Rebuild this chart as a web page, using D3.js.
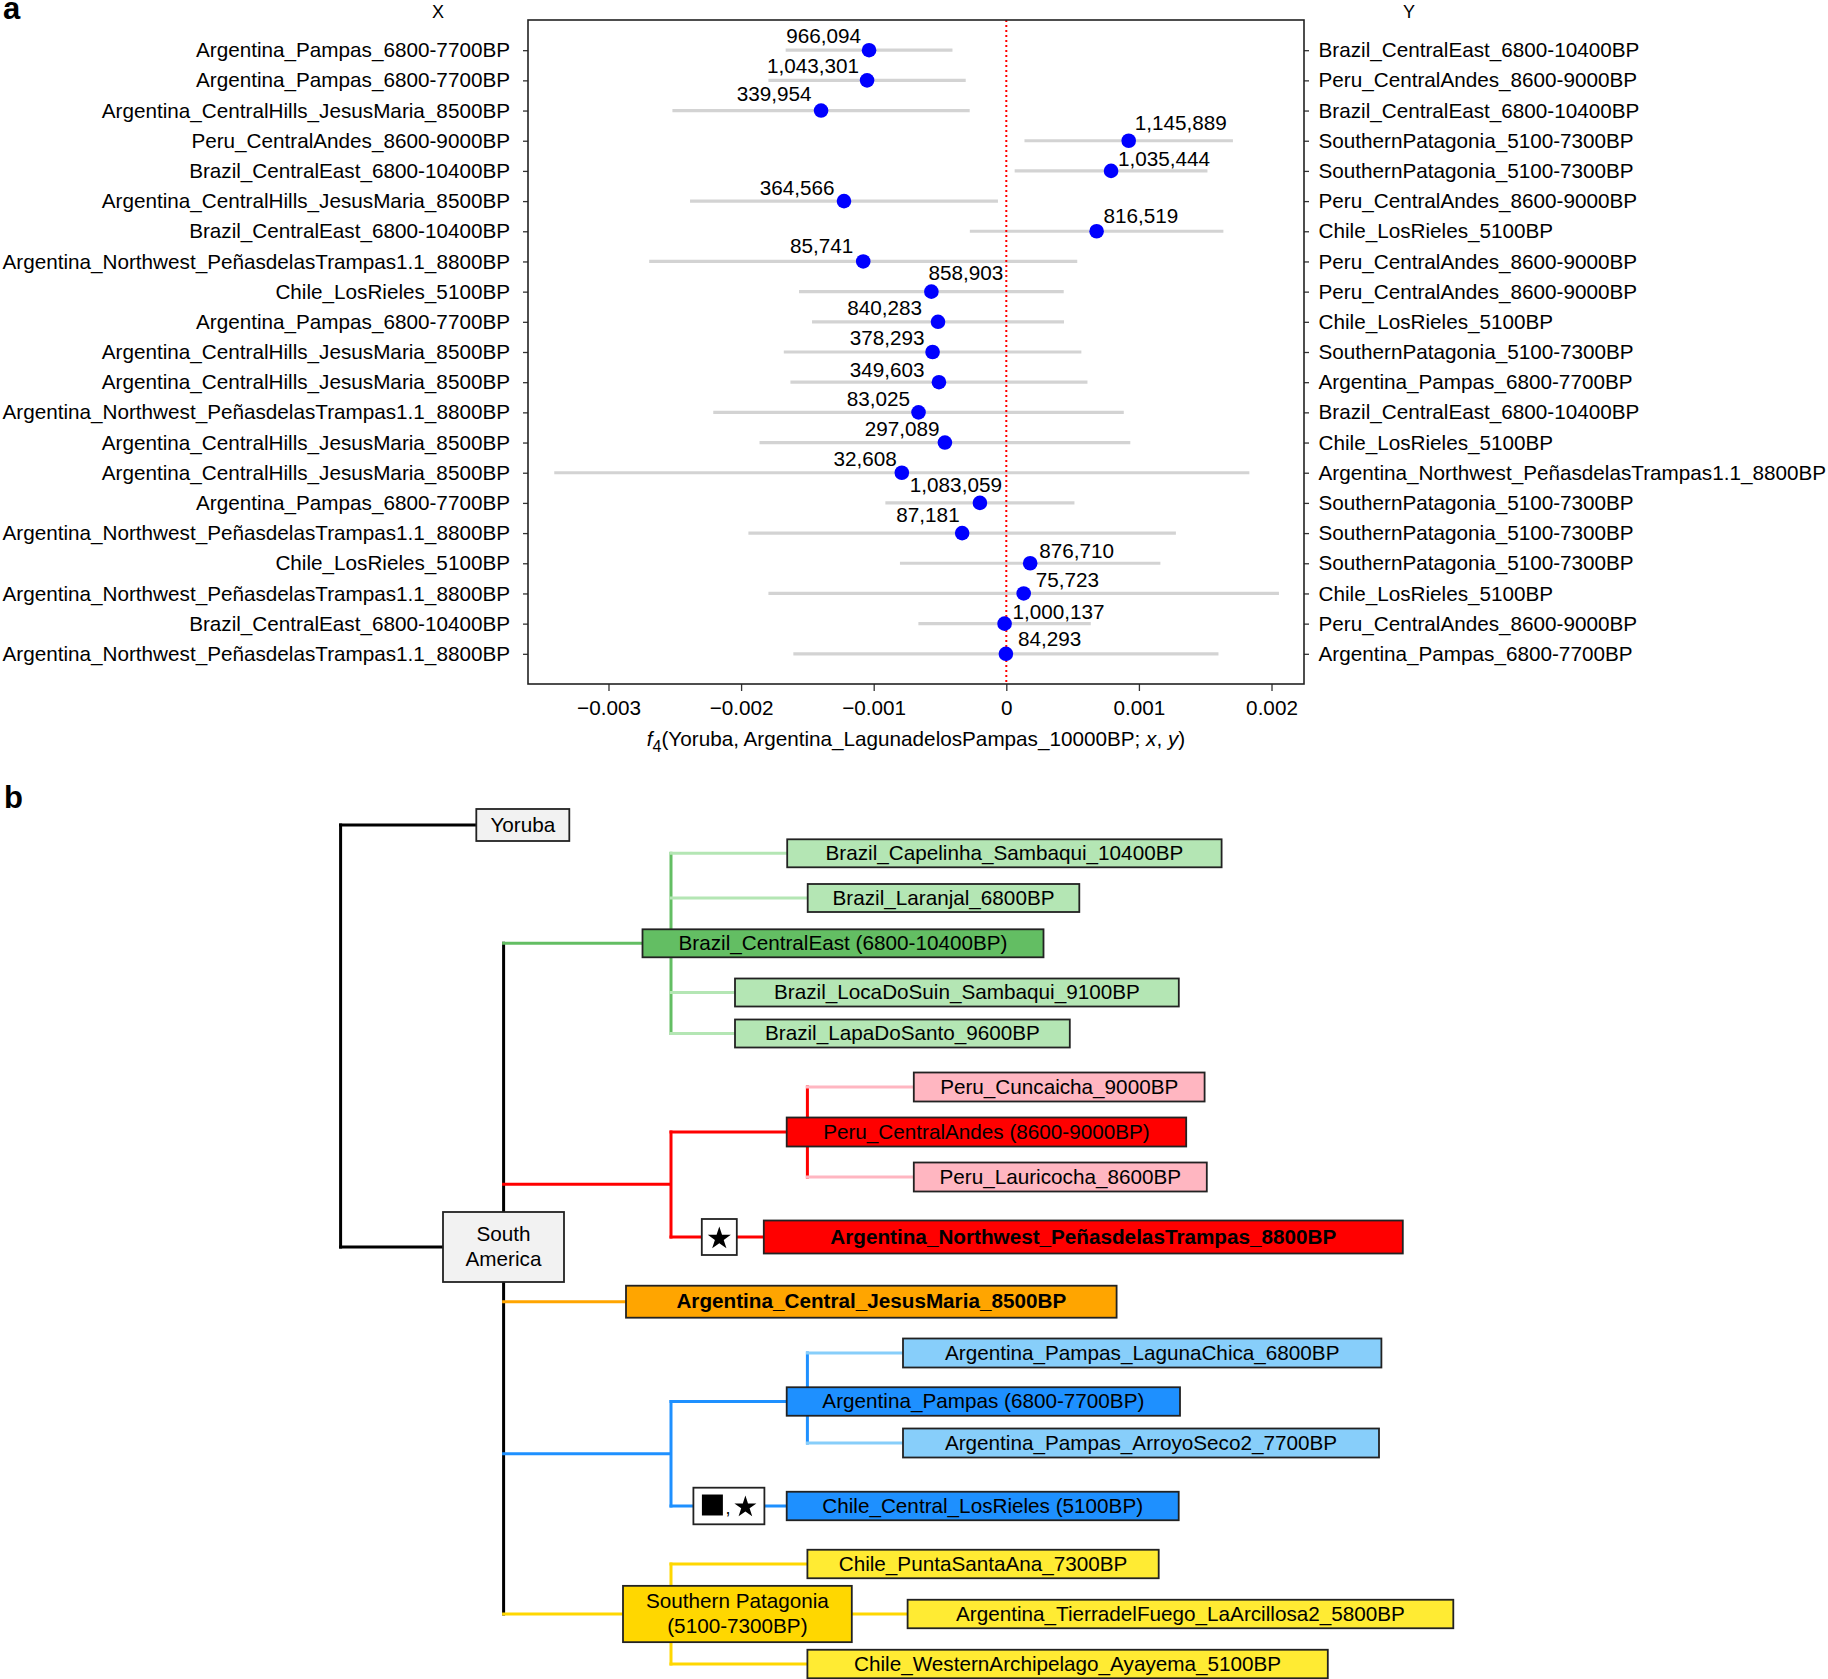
<!DOCTYPE html>
<html><head><meta charset="utf-8">
<script src="https://cdn.jsdelivr.net/npm/d3@7"></script>
<style>
body{margin:0;background:#fff}
svg{display:block}
text{font-family:"Liberation Sans",Arial,Helvetica,sans-serif}
</style>
</head><body>
<svg id="chart" width="1828" height="1679"></svg>
<script>
// ---------------- DATA (panel a) ----------------
const xNames = [
 "Argentina_Pampas_6800-7700BP","Argentina_Pampas_6800-7700BP","Argentina_CentralHills_JesusMaria_8500BP",
 "Peru_CentralAndes_8600-9000BP","Brazil_CentralEast_6800-10400BP","Argentina_CentralHills_JesusMaria_8500BP",
 "Brazil_CentralEast_6800-10400BP","Argentina_Northwest_PeñasdelasTrampas1.1_8800BP","Chile_LosRieles_5100BP",
 "Argentina_Pampas_6800-7700BP","Argentina_CentralHills_JesusMaria_8500BP","Argentina_CentralHills_JesusMaria_8500BP",
 "Argentina_Northwest_PeñasdelasTrampas1.1_8800BP","Argentina_CentralHills_JesusMaria_8500BP","Argentina_CentralHills_JesusMaria_8500BP",
 "Argentina_Pampas_6800-7700BP","Argentina_Northwest_PeñasdelasTrampas1.1_8800BP","Chile_LosRieles_5100BP",
 "Argentina_Northwest_PeñasdelasTrampas1.1_8800BP","Brazil_CentralEast_6800-10400BP","Argentina_Northwest_PeñasdelasTrampas1.1_8800BP"
];
const yNames = [
 "Brazil_CentralEast_6800-10400BP","Peru_CentralAndes_8600-9000BP","Brazil_CentralEast_6800-10400BP",
 "SouthernPatagonia_5100-7300BP","SouthernPatagonia_5100-7300BP","Peru_CentralAndes_8600-9000BP",
 "Chile_LosRieles_5100BP","Peru_CentralAndes_8600-9000BP","Peru_CentralAndes_8600-9000BP",
 "Chile_LosRieles_5100BP","SouthernPatagonia_5100-7300BP","Argentina_Pampas_6800-7700BP",
 "Brazil_CentralEast_6800-10400BP","Chile_LosRieles_5100BP","Argentina_Northwest_PeñasdelasTrampas1.1_8800BP",
 "SouthernPatagonia_5100-7300BP","SouthernPatagonia_5100-7300BP","SouthernPatagonia_5100-7300BP",
 "Chile_LosRieles_5100BP","Peru_CentralAndes_8600-9000BP","Argentina_Pampas_6800-7700BP"
];
const snpCounts = [966094,1043301,339954,1145889,1035444,364566,816519,85741,858903,840283,378293,
 349603,83025,297089,32608,1083059,87181,876710,75723,1000137,84293];
const f4Est = [-0.001035,-0.001050,-0.001397,0.000923,0.000790,-0.001224,0.000681,-0.001079,-0.000565,-0.000515,-0.000556,
 -0.000508,-0.000662,-0.000463,-0.000788,-0.000199,-0.000333,0.000180,0.000131,-0.000013,-0.000003];
const f4Err = [0.000629,0.000744,0.001121,0.000786,0.000727,0.001161,0.000956,0.001614,0.000998,0.000950,0.001122,
 0.001120,0.001548,0.001398,0.002621,0.000713,0.001612,0.000982,0.001925,0.000650,0.001603];
const xTicks = [-0.003,-0.002,-0.001,0,0.001,0.002];

// ---------------- DATA (panel b: tree) ----------------
const treeNodes = [
 {id:"root", parent:null},
 {id:"Yoruba", parent:"root", text:["Yoruba"]},
 {id:"SA", parent:"root", text:["South","America"]},
 {id:"CE", parent:"SA", text:["Brazil_CentralEast (6800-10400BP)"]},
 {id:"Capelinha", parent:"CE", text:["Brazil_Capelinha_Sambaqui_10400BP"]},
 {id:"Laranjal", parent:"CE", text:["Brazil_Laranjal_6800BP"]},
 {id:"LocaDoSuin", parent:"CE", text:["Brazil_LocaDoSuin_Sambaqui_9100BP"]},
 {id:"LapaDoSanto", parent:"CE", text:["Brazil_LapaDoSanto_9600BP"]},
 {id:"redJ", parent:"SA"},
 {id:"CA", parent:"redJ", text:["Peru_CentralAndes (8600-9000BP)"]},
 {id:"Cuncaicha", parent:"CA", text:["Peru_Cuncaicha_9000BP"]},
 {id:"Lauricocha", parent:"CA", text:["Peru_Lauricocha_8600BP"]},
 {id:"Penas", parent:"redJ", text:["Argentina_Northwest_PeñasdelasTrampas_8800BP"], bold:true, marker:"star"},
 {id:"JM", parent:"SA", text:["Argentina_Central_JesusMaria_8500BP"], bold:true},
 {id:"blueJ", parent:"SA"},
 {id:"Pampas", parent:"blueJ", text:["Argentina_Pampas (6800-7700BP)"]},
 {id:"LagunaChica", parent:"Pampas", text:["Argentina_Pampas_LagunaChica_6800BP"]},
 {id:"ArroyoSeco", parent:"Pampas", text:["Argentina_Pampas_ArroyoSeco2_7700BP"]},
 {id:"LosRieles", parent:"blueJ", text:["Chile_Central_LosRieles (5100BP)"], marker:"squarestar"},
 {id:"SP", parent:"SA", text:["Southern Patagonia","(5100-7300BP)"]},
 {id:"PuntaSantaAna", parent:"SP", text:["Chile_PuntaSantaAna_7300BP"]},
 {id:"TdF", parent:"SP", text:["Argentina_TierradelFuego_LaArcillosa2_5800BP"]},
 {id:"Ayayema", parent:"SP", text:["Chile_WesternArchipelago_Ayayema_5100BP"]}
];

// ---------------- STYLE / LAYOUT ----------------
const FONT = 20.7;
const C = {black:"#000", grey:"#f2f2f2", green:"#63be63", lgreen:"#b4e6b4", red:"#ff0000", pink:"#ffb6c1",
  orange:"#ffa500", blue:"#1e90ff", lblue:"#87cefa", gold:"#ffd700", yellow:"#ffeb33"};
// label nudges (ggrepel-like): [anchor, dx, dy] relative to each point
const labelNudge = [["end",-8,-7],["end",-8,-7.5],["end",-9.5,-9.5],["start",6,-10.5],["start",7,-5],["end",-9.5,-6.5],
 ["start",7,-8],["end",-10,-8.5],["start",-3,-12],["end",-16,-6.5],["end",-8,-7.5],["end",-14.5,-5.5],["end",-8.5,-6.5],
 ["end",-5.5,-6.5],["end",-5,-6.5],["end",22,-11],["end",-2.5,-11],["start",9,-5.5],["start",12,-6],["start",8,-5],["start",12,-7.5]];
// tree layout: box left x, width, centre y, height, trunk x, fill, link colour, trunk colour
const treeLayout = {
 root:{trunk:340.6, trunkColor:C.black},
 Yoruba:{x:476.3,w:93,cy:825,h:32,fill:C.grey,link:C.black},
 SA:{x:443,w:121,cy:1247,h:70,fill:C.grey,link:C.black,trunk:503.6,trunkColor:C.black},
 CE:{x:642.5,w:401,cy:943.3,h:28,fill:C.green,link:C.green,trunk:671,trunkColor:C.green},
 Capelinha:{x:787.2,w:434.4,cy:853.3,h:28,fill:C.lgreen,link:C.lgreen},
 Laranjal:{x:807.7,w:271.6,cy:898,h:28,fill:C.lgreen,link:C.lgreen},
 LocaDoSuin:{x:735,w:443.8,cy:992.5,h:28,fill:C.lgreen,link:C.lgreen},
 LapaDoSanto:{x:735,w:334.8,cy:1033.5,h:28,fill:C.lgreen,link:C.lgreen},
 redJ:{x:671,cy:1184.3,link:C.red,trunk:671,trunkColor:C.red},
 CA:{x:786.7,w:399.5,cy:1132,h:29,fill:C.red,link:C.red,trunk:807.4,trunkColor:C.red},
 Cuncaicha:{x:913.8,w:290.8,cy:1087,h:29,fill:C.pink,link:C.pink},
 Lauricocha:{x:913.8,w:293,cy:1177,h:29,fill:C.pink,link:C.pink},
 Penas:{x:763.8,w:639,cy:1237,h:33,fill:C.red,link:C.red,mx:701.8,mw:35,mh:36},
 JM:{x:626,w:490.6,cy:1301.7,h:32,fill:C.orange,link:C.orange},
 blueJ:{x:671,cy:1453.7,link:C.blue,trunk:671,trunkColor:C.blue},
 Pampas:{x:786.7,w:393.3,cy:1401.5,h:28.5,fill:C.blue,link:C.blue,trunk:807.4,trunkColor:C.blue},
 LagunaChica:{x:903,w:478.4,cy:1353,h:29,fill:C.lblue,link:C.lblue},
 ArroyoSeco:{x:903,w:476,cy:1443,h:29,fill:C.lblue,link:C.lblue},
 LosRieles:{x:786.7,w:392,cy:1506,h:28.5,fill:C.blue,link:C.blue,mx:693.4,mw:71,mh:36.6},
 SP:{x:623,w:228.8,cy:1614,h:56.3,fill:C.gold,link:C.gold,trunk:671,trunkColor:C.gold},
 PuntaSantaAna:{x:807.4,w:351.3,cy:1564,h:28.5,fill:C.yellow,link:C.gold},
 TdF:{x:907.6,w:545.7,cy:1614,h:28.5,fill:C.yellow,link:C.gold},
 Ayayema:{x:807.4,w:520.4,cy:1664,h:28.5,fill:C.yellow,link:C.gold}
};

const svg = d3.select("#chart");
svg.append("rect").attr("width",1828).attr("height",1679).attr("fill","#fff");

// ---------------- PANEL A ----------------
const P = {left:528, right:1304, top:20, bottom:684};
const x = d3.scaleLinear().domain([-0.003607, 0.002245]).range([P.left, P.right]);
const idx = d3.range(f4Est.length);
const y = d3.scalePoint().domain(idx).range([P.top, P.bottom]).padding(1);

const gA = svg.append("g");
function styleAxis(g){
  g.select(".domain").remove();
  g.selectAll(".tick line").attr("stroke","#333").attr("stroke-width",1.3);
  g.selectAll(".tick text").attr("fill","#000").style("font-size",FONT+"px")
   .style("font-family",'"Liberation Sans",Arial,sans-serif');
}
gA.append("g").attr("transform",`translate(${P.left},0)`)
  .call(d3.axisLeft(y).tickSize(5).tickPadding(13).tickFormat(i=>xNames[i])).call(styleAxis);
gA.append("g").attr("transform",`translate(${P.right},0)`)
  .call(d3.axisRight(y).tickSize(5).tickPadding(9.5).tickFormat(i=>yNames[i])).call(styleAxis);
gA.append("g").attr("transform",`translate(0,${P.bottom})`)
  .call(d3.axisBottom(x).tickValues(xTicks).tickSize(7).tickPadding(9).tickFormat(d3.format(".3~f"))).call(styleAxis);

// CI bars
gA.append("g").selectAll("line").data(idx).join("line")
  .attr("x1",i=>x(f4Est[i]-f4Err[i])).attr("x2",i=>x(f4Est[i]+f4Err[i]))
  .attr("y1",i=>y(i)).attr("y2",i=>y(i))
  .attr("stroke","#d3d3d3").attr("stroke-width",3.2);
// zero line
gA.append("line").attr("x1",x(0)).attr("x2",x(0)).attr("y1",P.top).attr("y2",P.bottom)
  .attr("stroke","#ff0000").attr("stroke-width",2).attr("stroke-dasharray","2,3");
// points
gA.append("g").selectAll("circle").data(idx).join("circle")
  .attr("cx",i=>x(f4Est[i])).attr("cy",i=>y(i)).attr("r",7.3).attr("fill","#0000ff");
// SNP count labels
gA.append("g").selectAll("text").data(idx).join("text")
  .attr("x",i=>x(f4Est[i])+labelNudge[i][1]).attr("y",i=>y(i)+labelNudge[i][2])
  .attr("text-anchor",i=>labelNudge[i][0]).style("font-size",FONT+"px").attr("fill","#000")
  .text(i=>d3.format(",")(snpCounts[i]));
// frame
gA.append("rect").attr("x",P.left).attr("y",P.top).attr("width",P.right-P.left).attr("height",P.bottom-P.top)
  .attr("fill","none").attr("stroke","#222").attr("stroke-width",1.6);
// column headers
gA.append("text").attr("x",438).attr("y",18).attr("text-anchor","middle").style("font-size","18px").text("X");
gA.append("text").attr("x",1409).attr("y",18).attr("text-anchor","middle").style("font-size","18px").text("Y");
// axis title
const tt = gA.append("text").attr("x",(P.left+P.right)/2).attr("y",746).attr("text-anchor","middle").style("font-size",FONT+"px");
tt.append("tspan").style("font-style","italic").text("f");
tt.append("tspan").attr("dy",6).style("font-size","16px").text("4");
tt.append("tspan").attr("dy",-6).text("(Yoruba, Argentina_LagunadelosPampas_10000BP; ");
tt.append("tspan").style("font-style","italic").text("x");
tt.append("tspan").text(", ");
tt.append("tspan").style("font-style","italic").text("y");
tt.append("tspan").text(")");

// panel letters
svg.append("text").attr("x",3).attr("y",19).style("font-size","31px").style("font-weight","bold").text("a");
svg.append("text").attr("x",4).attr("y",808).style("font-size","31px").style("font-weight","bold").text("b");

// ---------------- PANEL B ----------------
const root = d3.stratify().id(d=>d.id).parentId(d=>d.parent)(treeNodes);
const gB = svg.append("g");
const gLinks = gB.append("g"), gBoxes = gB.append("g");
const LW = 3;
root.each(n=>{
  const L = treeLayout[n.id];
  if(n.children){
    const ys = n.children.map(c=>treeLayout[c.id].cy);
    if(L.cy!==undefined) ys.push(L.cy);
    gLinks.append("line").attr("x1",L.trunk).attr("x2",L.trunk)
      .attr("y1",d3.min(ys)-LW/2).attr("y2",d3.max(ys)+LW/2)
      .attr("stroke",L.trunkColor).attr("stroke-width",LW);
    n.children.forEach(c=>{
      const K = treeLayout[c.id];
      gLinks.append("line").attr("x1",L.trunk-LW/2).attr("x2",K.x).attr("y1",K.cy).attr("y2",K.cy)
        .attr("stroke",K.link).attr("stroke-width",LW);
    });
  }
});
root.each(n=>{
  const L = treeLayout[n.id];
  if(!n.data.text) return;
  gBoxes.append("rect").attr("x",L.x).attr("y",L.cy-L.h/2).attr("width",L.w).attr("height",L.h)
    .attr("fill",L.fill).attr("stroke","#222").attr("stroke-width",1.8);
  const lines = n.data.text, gap = 25.5;
  lines.forEach((t,k)=>{
    gBoxes.append("text").attr("x",L.x+L.w/2)
      .attr("y",L.cy - 0.5 + (k-(lines.length-1)/2)*gap + FONT*0.35)
      .attr("text-anchor","middle").style("font-size",FONT+"px")
      .style("font-weight",n.data.bold?"bold":"normal").attr("fill","#000").text(t);
  });
  if(n.data.marker){
    gBoxes.append("rect").attr("x",L.mx).attr("y",L.cy-L.mh/2).attr("width",L.mw).attr("height",L.mh)
      .attr("fill","#fff").attr("stroke","#222").attr("stroke-width",1.8);
    const cx = L.mx+L.mw/2;
    if(n.data.marker==="star"){
      gBoxes.append("path").attr("d",d3.symbol(d3.symbolStar,165)())
        .attr("transform",`translate(${cx},${L.cy+1.5})`).attr("fill","#000");
    } else {
      gBoxes.append("path").attr("d",d3.symbol(d3.symbolSquare,440)())
        .attr("transform",`translate(${L.mx+19},${L.cy-1})`).attr("fill","#000");
      gBoxes.append("text").attr("x",L.mx+32).attr("y",L.cy+8).style("font-size","18px").text(",");
      gBoxes.append("path").attr("d",d3.symbol(d3.symbolStar,150)())
        .attr("transform",`translate(${L.mx+52},${L.cy+1})`).attr("fill","#000");
    }
  }
});
</script>
</body></html>
